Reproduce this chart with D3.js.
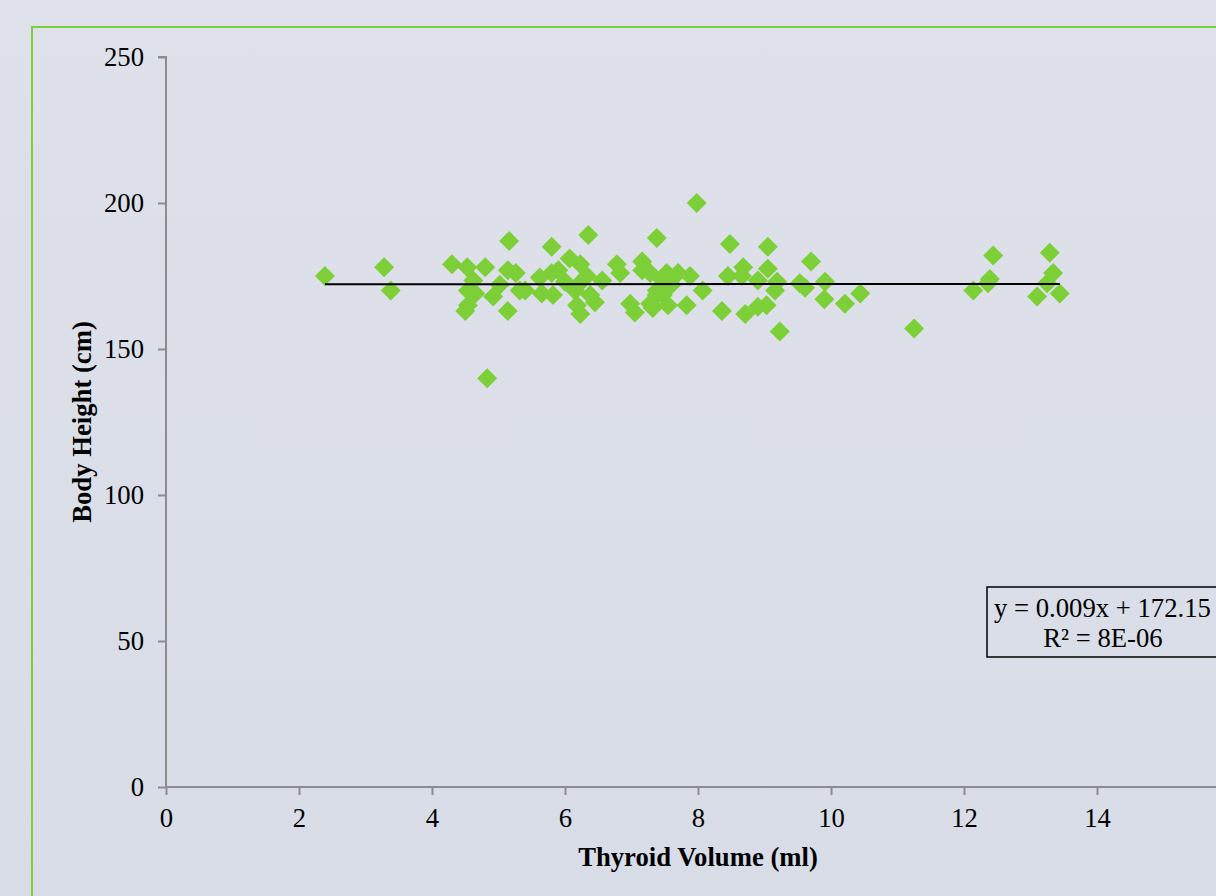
<!DOCTYPE html>
<html><head><meta charset="utf-8">
<script src="https://cdn.jsdelivr.net/npm/d3@7"></script>
<style>html,body{margin:0;padding:0;overflow:hidden;}svg{display:block;}</style>
</head><body>
<svg id="chart" width="1216" height="896"></svg>
<script>
const thyroidVolume = [2.39,3.28,3.38,4.30,4.53,4.80,4.62,4.54,4.65,4.92,5.02,5.14,5.26,5.32,5.40,4.54,4.50,5.14,5.16,4.83,
 5.62,5.65,5.82,5.80,5.80,5.90,6.07,6.23,6.33,6.56,6.35,6.78,6.83,7.16,7.16,7.38,6.15,6.18,6.23,6.45,
 6.38,6.98,7.05,7.32,7.28,7.38,7.28,7.53,7.70,7.88,7.38,7.47,7.55,7.83,7.98,8.07,8.36,8.45,8.48,8.66,
 8.68,8.71,8.90,8.90,9.03,9.05,9.05,9.19,9.16,9.23,9.53,9.61,9.70,9.91,9.90,10.21,10.44,11.25,12.14,12.36,
 12.39,12.44,13.10,13.25,13.29,13.34,13.44,6.00,6.20,7.45,7.60];
const bodyHeight = [175,178,170,179,178,178,173.5,170,169,168,172,177,176,170,170,165,163,163,187,140,
 174.5,169,168.5,185,176,177,181,179,175,173.5,189,179,176,180,177,188,170,165,162,166,
 168.5,165.5,162.5,164,165.5,168.5,176,176,176,175,170,168.5,165,165,200,170,163,175,186,175,
 178,162,173.5,164.5,165,185,177.5,173,170,156,172.5,171,180,173,167,165.5,169,157,170,172.5,
 174,182,168,172.5,183,176,169,173,172,174,172];
const xTicks = [0,2,4,6,8,10,12,14];
const yTicks = [0,50,100,150,200,250];
const trendSlope = 0.009, trendIntercept = 172.15;
const xTitle = "Thyroid Volume (ml)";
const yTitle = "Body Height (cm)";
const eqLine1 = "y = 0.009x + 172.15";
const eqLine2 = "R² = 8E-06";

const svg = d3.select("#chart");
const defs = svg.append("defs");
const grad = defs.append("linearGradient").attr("id","bg").attr("x1",0).attr("y1",0).attr("x2",0).attr("y2",1);
grad.append("stop").attr("offset","0%").attr("stop-color","#dee1ea");
grad.append("stop").attr("offset","100%").attr("stop-color","#d8dce6");
svg.append("rect").attr("width",1216).attr("height",896).attr("fill","url(#bg)");
svg.append("rect").attr("x",32).attr("y",27).attr("width",1300).attr("height",1000)
  .attr("fill","none").attr("stroke","#7ccf3a").attr("stroke-width",2);

const x = d3.scaleLinear().domain([0,16]).range([166, 166 + 16*66.5]);
const y = d3.scaleLinear().domain([0,250]).range([787, 57]);
const font = "'Liberation Serif','Times New Roman',serif";
const fs = "26.7px";

const xAxis = svg.append("g").attr("transform","translate(0,787)")
  .call(d3.axisBottom(x).tickValues(xTicks).tickSize(8).tickPadding(13).tickFormat(d3.format("d")));
const yAxis = svg.append("g").attr("transform","translate(166,0)")
  .call(d3.axisLeft(y).tickValues(yTicks).tickSize(8).tickPadding(14).tickFormat(d3.format("d")));
[xAxis,yAxis].forEach(a=>{
  a.select(".domain").attr("stroke","#8c8c8c").attr("stroke-width",2);
  a.selectAll(".tick line").attr("stroke","#8c8c8c").attr("stroke-width",2);
  a.selectAll(".tick text").attr("fill","#000").attr("font-family",font).attr("font-size",fs)
    .style("font-family",font).style("font-size",fs);
});
xAxis.select(".domain").attr("d", `M${x(0)},0H1216`);
yAxis.select(".domain").attr("d", `M-8,${y(250)}H0V${y(0)}`);

const pts = thyroidVolume.map((v,i)=>({x:v,y:bodyHeight[i]}));
const r = 10;
svg.append("g").selectAll("path").data(pts).join("path")
  .attr("transform",d=>`translate(${x(d.x)},${y(d.y)})`)
  .attr("d",`M0,${-r}L${r},0L0,${r}L${-r},0Z`)
  .attr("fill","#7dcf37");

const xMin = d3.min(thyroidVolume), xMax = d3.max(thyroidVolume);
svg.append("line")
  .attr("x1",x(xMin)).attr("x2",x(xMax))
  .attr("y1",y(trendSlope*xMin+trendIntercept)).attr("y2",y(trendSlope*xMax+trendIntercept))
  .attr("stroke","#000").attr("stroke-width",2);

svg.append("text").attr("x",698).attr("y",866).attr("text-anchor","middle")
  .style("font-family",font).style("font-size",fs).style("font-weight","bold").text(xTitle);
svg.append("text").attr("transform","translate(91,422) rotate(-90)").attr("text-anchor","middle")
  .style("font-family",font).style("font-size",fs).style("font-weight","bold").text(yTitle);

svg.append("rect").attr("x",987).attr("y",587).attr("width",260).attr("height",70)
  .attr("fill","none").attr("stroke","#000").attr("stroke-width",1.5);
svg.append("text").attr("x",994).attr("y",617)
  .style("font-family",font).style("font-size",fs).text(eqLine1);
svg.append("text").attr("x",1103).attr("y",647).attr("text-anchor","middle")
  .style("font-family",font).style("font-size",fs).text(eqLine2);
</script>
</body></html>
